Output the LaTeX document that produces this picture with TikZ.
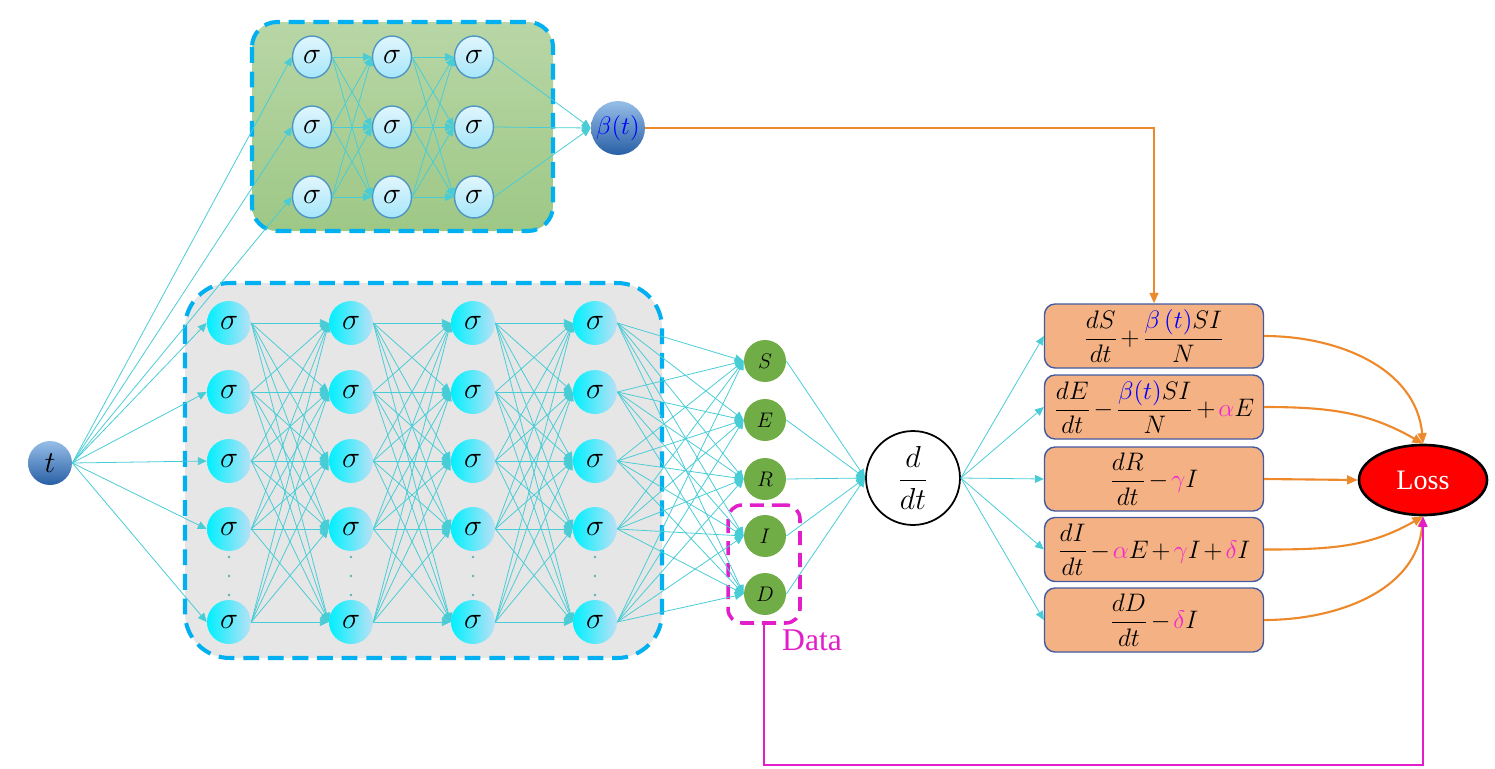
\documentclass[tikz,border=0pt]{standalone}
\usepackage{fontspec}
\setmainfont{Liberation Serif}
\usepackage{amsmath}
\usetikzlibrary{arrows.meta,shapes.geometric}

\definecolor{netcyan}{RGB}{72,205,215}
\definecolor{dashblue}{RGB}{0,176,240}
\definecolor{greentop}{RGB}{184,214,166}
\definecolor{greenbot}{RGB}{158,200,134}
\definecolor{grayfill}{RGB}{231,230,230}
\definecolor{sigleft}{RGB}{0,240,255}
\definecolor{sigright}{RGB}{185,225,245}
\definecolor{toptop}{RGB}{225,246,253}
\definecolor{topbot}{RGB}{165,230,250}
\definecolor{topedge}{RGB}{80,150,195}
\definecolor{balltop}{RGB}{150,190,232}
\definecolor{ballbot}{RGB}{40,95,165}
\definecolor{stategreen}{RGB}{112,173,71}
\definecolor{eqfill}{RGB}{244,177,131}
\definecolor{eqedge}{RGB}{68,90,160}
\definecolor{lossorange}{RGB}{237,137,43}
\definecolor{datamag}{RGB}{225,30,200}
\definecolor{parpink}{RGB}{240,40,210}

\newcommand{\pp}[1]{{\color{parpink}#1}}
\newcommand{\bt}[1]{{\color{blue}#1}}
\newcommand{\eqfont}{\fontsize{14.5}{17}\selectfont\medmuskip=2mu\relax}

\tikzset{
  sig/.style={circle, minimum size=0.88cm, inner sep=0pt, left color=sigleft, right color=sigright,
    font=\fontsize{18}{20}\selectfont},
  sigtop/.style={ellipse, minimum width=0.78cm, minimum height=0.84cm, inner sep=0pt,
    draw=topedge, line width=0.8pt, top color=toptop, bottom color=topbot,
    font=\fontsize{18}{20}\selectfont},
  ball/.style={circle, inner sep=0pt, top color=balltop, bottom color=ballbot},
  state/.style={circle, fill=stategreen, minimum size=0.84cm, inner sep=0pt,
    font=\fontsize{13}{15}\selectfont},
  eqbox/.style={rectangle, rounded corners=6pt, draw=eqedge, line width=0.8pt, fill=eqfill,
    minimum width=4.38cm, minimum height=1.28cm, inner sep=0pt, font=\eqfont},
  netbox/.style={draw=dashblue, line width=2.3pt, dash pattern=on 9pt off 5pt},
  link/.style={netcyan, line width=0.45pt, -{Triangle[length=5pt,width=4.5pt]}},
  lossline/.style={lossorange, line width=1.2pt, -{Triangle[length=6pt,width=5pt]}},
}

\begin{document}
\begin{tikzpicture}[x=0.02cm,y=-0.02cm]
\useasboundingbox (0,0) rectangle (1495,768);
% network boxes
\path[netbox, rounded corners=0.5cm, top color=greentop, bottom color=greenbot] (252,22) rectangle (553,231);
\path[netbox, rounded corners=0.9cm, fill=grayfill] (185,283) rectangle (662,658);

% input and beta network
\node[ball, minimum size=0.88cm, font=\fontsize{18}{20}\selectfont] (t) at (50,463) {$t$};
\foreach \i/\x in {1/312,2/392,3/474}
  \foreach \j/\y in {1/57,2/127,3/197}
    \node[sigtop] (b-\i-\j) at (\x,\y) {$\sigma$};
\node[ball, minimum size=1.08cm, font=\fontsize{14}{16}\selectfont] (beta) at (618,128) {\bt{$\beta(t)$}};

% state network
\foreach \i/\x in {1/229,2/351,3/473,4/595}
  \foreach \j/\y in {1/323,2/392,3/461,4/529,5/622}
    \node[sig] (n-\i-\j) at (\x,\y) {$\sigma$};
\foreach \x in {229,351,473,595}
  \foreach \y in {557,576,595}
    \fill[netcyan!60!gray] (\x,\y) circle (0.8pt);

% outputs
\foreach \s/\y in {S/361,E/420,R/479,I/536,D/594}
  \node[state] (st-\s) at (765,\y) {$\s$};
\node[circle, draw, line width=1pt, fill=white, minimum size=1.88cm, inner sep=0pt,
  font=\fontsize{16}{18}\selectfont] (ddt) at (913,478) {$\dfrac{d}{dt}$};

% residuals
\node[eqbox] (eq-S) at (1154,336) {$\dfrac{dS}{dt}+\dfrac{\bt{\beta\left(t\right)}SI}{N}$};
\node[eqbox] (eq-E) at (1154,407) {$\dfrac{dE}{dt}-\dfrac{\bt{\beta(t)}SI}{N}+\pp{\alpha}E$};
\node[eqbox] (eq-R) at (1154,479) {$\dfrac{dR}{dt}-\pp{\gamma}I$};
\node[eqbox] (eq-I) at (1154,549.5) {$\dfrac{dI}{dt}-\pp{\alpha}E+\pp{\gamma}I+\pp{\delta}I$};
\node[eqbox] (eq-D) at (1154,620) {$\dfrac{dD}{dt}-\pp{\delta}I$};
\node[ellipse, draw, line width=1.5pt, fill=red, minimum width=2.56cm, minimum height=1.4cm,
  text=white, font=\fontsize{16}{18}\selectfont] (loss) at (1423,480) {Loss};

% data
\node[draw=datamag, line width=2pt, dash pattern=on 8pt off 4.5pt, rounded corners=8pt,
  minimum width=1.44cm, minimum height=2.36cm] (data) at (764,564) {};
\node[text=datamag, font=\fontsize{18}{20}\selectfont, anchor=west] (datalbl) at (776,640) {Data};

% connections
\foreach \j in {1,2,3}
  \draw[link] (t.east) -- (b-1-\j.west);
\foreach \j in {1,...,5}
  \draw[link] (t.east) -- (n-1-\j.west);
\foreach \i/\k in {1/2,2/3}
  \foreach \j in {1,2,3}
    \foreach \m in {1,2,3}
      \draw[link] (b-\i-\j.east) -- (b-\k-\m.west);
\foreach \j in {1,2,3}
  \draw[link] (b-3-\j.east) -- (beta.west);
\foreach \i/\k in {1/2,2/3,3/4}
  \foreach \j in {1,...,5}
    \foreach \m in {1,...,5}
      \draw[link] (n-\i-\j.east) -- (n-\k-\m.west);
\foreach \j in {1,...,5}
  \foreach \s in {S,E,R,I,D}
    \draw[link] (n-4-\j.east) -- (st-\s.west);
\foreach \s in {S,E,R,I,D} {
  \draw[link] (st-\s.east) -- (ddt.west);
  \draw[link] (ddt.east) -- (eq-\s.west);
}

% loss terms
\draw[lossline] (beta.east) -| (eq-S.north);
\draw[lossline] (eq-S.east) to[out=0,in=95] (loss.north);
\draw[lossline] (eq-E.east) to[out=0,in=150] (loss.north);
\draw[lossline] (eq-R.east) -- (loss.west);
\draw[lossline] (eq-I.east) to[out=0,in=-150] (loss.south);
\draw[lossline] (eq-D.east) to[out=0,in=-95] (loss.south);
\draw[datamag, line width=1.2pt, -{Triangle[length=6pt,width=5pt]}] (data.south) -- ++(0,140) -| (loss.south);
\end{tikzpicture}
\end{document}
